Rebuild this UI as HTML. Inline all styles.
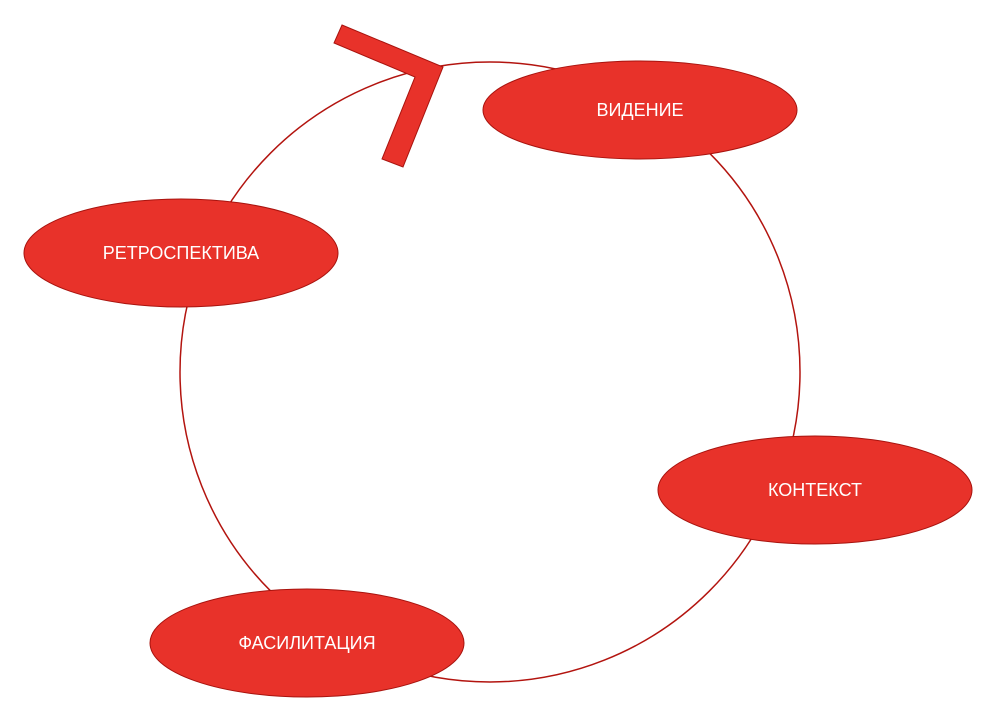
<!DOCTYPE html>
<html><head><meta charset="utf-8"><style>
html,body{margin:0;padding:0;background:#fff;}
svg{display:block}
text{font-family:"Liberation Sans","DejaVu Sans",sans-serif;font-size:18px;fill:#fff;text-anchor:middle;dominant-baseline:central}
</style></head><body>
<svg width="1000" height="721" viewBox="0 0 1000 721" xmlns="http://www.w3.org/2000/svg">
<circle cx="490" cy="372" r="310" fill="none" stroke="#b3140f" stroke-width="1.5"/>
<polygon points="342,25 443,67 403,167 382,159 415,77 334,43" fill="#e8322a" stroke="#a8130e" stroke-width="1"/>
<g fill="#e8322a" stroke="#a8130e" stroke-width="1">
<ellipse cx="640" cy="110" rx="157" ry="49"/>
<ellipse cx="181" cy="253" rx="157" ry="54"/>
<ellipse cx="815" cy="490" rx="157" ry="54"/>
<ellipse cx="307" cy="643" rx="157" ry="54"/>
</g>
<text x="640" y="110">ВИДЕНИЕ</text>
<text x="181" y="253">РЕТРОСПЕКТИВА</text>
<text x="815" y="490">КОНТЕКСТ</text>
<text x="307" y="643">ФАСИЛИТАЦИЯ</text>
</svg>
</body></html>
